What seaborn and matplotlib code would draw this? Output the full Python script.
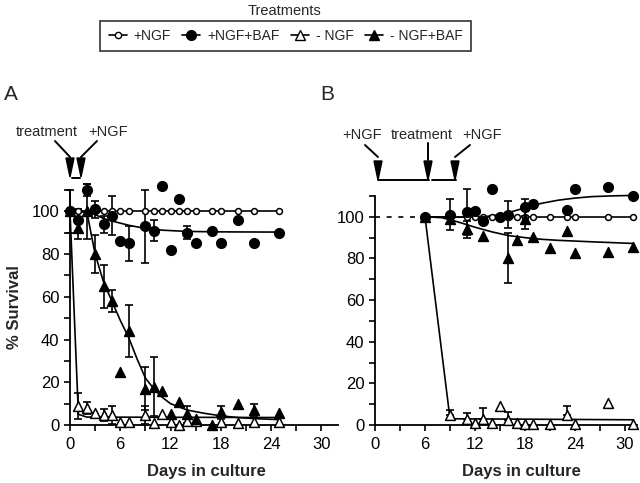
import numpy as np
import matplotlib
matplotlib.use('Agg')
import matplotlib.pyplot as plt
import seaborn as sns
from matplotlib.lines import Line2D
from matplotlib.patches import Polygon
from matplotlib.ticker import MultipleLocator

sns.set_style("ticks")
plt.rcParams['font.family'] = ['Liberation Sans', 'DejaVu Sans']

# ---- Panel A data (days, % survival, error) ----
a_ngf_days = [0, 1, 3, 4, 5, 6, 7, 9, 10, 11, 12, 13, 14, 15, 17, 18, 20, 22, 25]
a_ngf_vals = [100, 100, 100, 100, 100, 100, 100, 100, 100, 100, 100, 100, 100, 100, 100, 100, 100, 100, 100]

a_baf_days = [0, 1, 2, 3, 4, 5, 6, 7, 9, 10, 11, 12, 13, 14, 15, 17, 18, 20, 22, 25]
a_baf_vals = [100, 96, 110, 101, 94, 98, 86, 85, 93, 91, 112, 82, 106, 90, 85, 91, 85, 96, 85, 90]
a_baf_err = [10, 5, 3, 4, 4, 9, 0, 8, 17, 5, 0, 0, 0, 3, 0, 0, 0, 0, 0, 0]

a_nongf_days = [1, 2, 3, 4, 5, 6, 7, 9, 10, 11, 12, 13, 14, 15, 18, 20, 22, 25]
a_nongf_vals = [9, 8, 5.5, 4.7, 4.7, 1.6, 1.6, 4.7, 1, 5, 1.6, 0, 2, 2, 1.6, 1, 1.6, 1.6]
a_nongf_err = [6, 3, 0, 3, 4, 0, 0, 4, 0, 0, 0, 0, 0, 0, 0, 0, 0, 0]

a_nobaf_days = [0, 1, 2, 3, 4, 5, 6, 7, 9, 10, 11, 12, 13, 14, 15, 17, 18, 20, 22, 25]
a_nobaf_vals = [100, 92, 100, 80, 65, 58, 25, 44, 17, 18, 16, 5, 11, 5, 3, 0, 6, 10, 7, 5.5]
a_nobaf_err = [0, 5, 13, 9, 10, 5, 0, 12, 10, 14, 0, 0, 0, 4, 0, 0, 3, 0, 3, 0]

# fitted curves
a_fit_ngf_x = [0, 25]
a_fit_ngf_y = [100, 100]
a_fit_baf_x = [0, 1, 2, 3, 4, 5, 7, 9, 11, 14, 18, 25]
a_fit_baf_y = [100, 100, 99.5, 98.5, 96.7, 95.5, 93.5, 92, 91.2, 90.6, 90.4, 90.3]
a_fit_nongf_x = [0, 1, 2, 25]
a_fit_nongf_y = [100, 5, 3.7, 3.5]
a_fit_nobaf_x = [0, 2, 3, 4, 5, 6, 7, 8, 9, 10, 11, 12, 14, 16, 18, 20, 22, 25]
a_fit_nobaf_y = [100, 100, 80, 67, 58, 49, 41, 31, 22, 17, 13, 10, 7, 5.5, 4.3, 3.5, 3, 2.5]

# ---- Panel B data ----
b_ngf_days = [6, 9, 11, 12, 13, 14, 15, 16, 17, 18, 19, 21, 23, 24, 28, 31]
b_ngf_vals = [100, 100, 100, 100, 100, 100, 100, 100, 100, 100, 100, 100, 100, 100, 100, 100]

b_baf_days = [6, 9, 11, 12, 13, 14, 15, 16, 18, 19, 23, 24, 28, 31]
b_baf_vals = [100, 101, 102.5, 103, 98, 113.5, 100, 101, 104.5, 106, 103.5, 113.5, 114.5, 110]
b_baf_err = [0, 7.5, 11, 0, 0, 0, 0, 6.5, 4, 0, 0, 0, 0, 0]

b_nongf_days = [9, 11, 12, 13, 14, 15, 16, 17, 18, 19, 21, 23, 24, 28, 31]
b_nongf_vals = [4.8, 2.7, 1.1, 2.7, 1.1, 9.1, 2.4, 1.1, 0.5, 0.5, 0.5, 4.8, 0.5, 10.4, 0.5]
b_nongf_err = [2.4, 2.9, 0, 5.3, 0, 0, 4, 0, 0, 0, 0, 4.3, 0, 0, 0]

b_nobaf_days = [6, 9, 11, 13, 16, 17, 18, 19, 21, 23, 24, 28, 31]
b_nobaf_vals = [100, 99, 94, 91, 80, 89, 99, 90.5, 85, 93, 82.5, 83, 85.5]
b_nobaf_err = [0, 0, 4, 0, 12, 0, 5, 0, 0, 0, 0, 0, 0]

b_pre_x = [0, 6]
b_pre_y = [100, 100]
b_fit_ngf_x = [6, 31]
b_fit_ngf_y = [100, 100]
b_fit_baf_x = [6, 10, 13, 15, 16, 18, 20, 22, 24, 26, 28, 31]
b_fit_baf_y = [100, 99.8, 100, 101, 102, 104.3, 106.5, 108, 109, 109.7, 110, 110.3]
b_fit_nongf_x = [6, 9, 31]
b_fit_nongf_y = [100, 3, 2.5]
b_fit_nobaf_x = [6, 8, 10, 12, 14, 16, 18, 20, 22, 26, 31]
b_fit_nobaf_y = [100, 99.6, 97.5, 95, 92.8, 91, 90, 89.2, 88.7, 88, 87.2]

W, H = 640, 483
fig = plt.figure(figsize=(6.4, 4.83), dpi=100)
axA = fig.add_axes([70 / W, 1 - 425 / H, 268 / W, 235 / H])
axB = fig.add_axes([375 / W, 1 - 425 / H, 261.7 / W, 229 / H])


def style(ax, xmax):
    ax.set_xlim(0, xmax)
    ax.set_ylim(0, 110)
    sns.despine(ax=ax)
    for s in ['left', 'bottom']:
        ax.spines[s].set_linewidth(1.3)
        ax.spines[s].set_color('black')
    ax.xaxis.set_major_locator(MultipleLocator(6))
    ax.xaxis.set_minor_locator(MultipleLocator(3))
    ax.yaxis.set_major_locator(MultipleLocator(20))
    ax.yaxis.set_minor_locator(MultipleLocator(10))
    ax.tick_params(which='both', direction='out', length=4.5, width=1.2,
                   colors='black', labelsize=12)
    ax.tick_params(axis='x', pad=4)
    ax.tick_params(axis='y', pad=3)
    ax.set_xlabel('Days in culture', fontsize=12, fontweight='bold')
    ax.set_ylabel('')


def curve(ax, x, y, ls='-'):
    sns.lineplot(x=x, y=y, color='black', lw=1.2, ls=ls, ax=ax,
                 clip_on=False, zorder=2)


def bars(ax, days, vals, err, upper_only=False):
    d = np.array(days, float)
    v = np.array(vals, float)
    e = np.array(err, float)
    m = e > 0
    lo = np.zeros(m.sum()) if upper_only else e[m]
    eb = ax.errorbar(d[m], v[m], yerr=[lo, e[m]], fmt='none', ecolor='black',
                     elinewidth=1.2, capsize=3, capthick=1.2, zorder=3)
    for a in eb.get_children():
        a.set_clip_on(False)


def points(ax, days, vals, marker, filled, s):
    sns.scatterplot(x=days, y=vals, marker=marker, s=s,
                    color='black' if filled else 'white', edgecolor='black',
                    linewidth=1.1, ax=ax, clip_on=False, zorder=4)


# Panel A
curve(axA, a_fit_ngf_x, a_fit_ngf_y)
curve(axA, a_fit_baf_x, a_fit_baf_y)
curve(axA, a_fit_nongf_x, a_fit_nongf_y)
curve(axA, a_fit_nobaf_x, a_fit_nobaf_y)
bars(axA, a_baf_days, a_baf_vals, a_baf_err)
bars(axA, a_nobaf_days, a_nobaf_vals, a_nobaf_err)
bars(axA, a_nongf_days, a_nongf_vals, a_nongf_err)
points(axA, a_ngf_days, a_ngf_vals, 'o', False, 18)
points(axA, a_nongf_days, a_nongf_vals, '^', False, 50)
points(axA, a_baf_days, a_baf_vals, 'o', True, 48)
points(axA, a_nobaf_days, a_nobaf_vals, '^', True, 50)
style(axA, 32)
axA.set_ylabel('% Survival', fontsize=12, fontweight='bold')
axA.yaxis.set_label_coords(-0.18, 0.5)
axA.xaxis.set_label_coords(0.51, -0.165)

# Panel B
curve(axB, b_pre_x, b_pre_y, ls=(0, (3, 4)))
curve(axB, b_fit_ngf_x, b_fit_ngf_y)
curve(axB, b_fit_baf_x, b_fit_baf_y)
curve(axB, b_fit_nongf_x, b_fit_nongf_y)
curve(axB, b_fit_nobaf_x, b_fit_nobaf_y)
bars(axB, b_baf_days, b_baf_vals, b_baf_err)
bars(axB, b_nobaf_days, b_nobaf_vals, b_nobaf_err)
bars(axB, b_nongf_days, b_nongf_vals, b_nongf_err, upper_only=True)
points(axB, b_ngf_days, b_ngf_vals, 'o', False, 18)
points(axB, b_nongf_days, b_nongf_vals, '^', False, 50)
points(axB, b_baf_days, b_baf_vals, 'o', True, 48)
points(axB, b_nobaf_days, b_nobaf_vals, '^', True, 50)
style(axB, 31.4)
axB.xaxis.set_label_coords(0.56, -0.17)


# annotations in pixel coordinates of the figure
def px(x, y):
    return (x / W, 1 - y / H)


def seg(pts):
    xs, ys = zip(*[px(x, y) for x, y in pts])
    fig.add_artist(Line2D(xs, ys, color='black', lw=1.4, transform=fig.transFigure))


def head(x, y_tip, h=19, hw=4):
    tri = Polygon([px(x - hw, y_tip - h), px(x + hw, y_tip - h), px(x, y_tip)],
                  closed=True, color='black', transform=fig.transFigure)
    fig.add_artist(tri)


def label(x, y, s, size=10.5):
    fig.text(*px(x, y), s, ha='center', va='center', fontsize=size)


# Panel A arrows
label(47, 132, 'treatment')
label(108, 132, '+NGF')
seg([(55, 141), (70, 157)])
seg([(97, 141), (81, 157)])
head(70, 177)
head(81, 177)
seg([(72, 178), (80, 178)])

# Panel B arrows
label(362, 135, '+NGF')
label(422, 135, 'treatment')
label(482, 135, '+NGF')
seg([(365, 145), (378, 157)])
seg([(428, 143), (428, 160)])
seg([(470, 145), (455, 157)])
head(378, 180)
head(428, 180)
head(455, 180)
seg([(378, 180), (429, 180)])
seg([(432, 180), (456, 180)])

# panel letters
fig.text(*px(11, 95), 'A', ha='center', va='center', fontsize=15)
fig.text(*px(327, 95), 'B', ha='center', va='center', fontsize=15)

# legend
handles = [
    Line2D([], [], color='black', lw=1.2, marker='o', ms=4.5, mfc='white', mec='black'),
    Line2D([], [], color='black', lw=1.2, marker='o', ms=7, mfc='black', mec='black'),
    Line2D([], [], color='black', lw=1.2, marker='^', ms=7, mfc='white', mec='black'),
    Line2D([], [], color='black', lw=1.2, marker='^', ms=7, mfc='black', mec='black'),
]
leg = fig.legend(handles, ['+NGF', '+NGF+BAF', '- NGF', '- NGF+BAF'], ncol=4,
                 loc='center', bbox_to_anchor=px(285.5, 36), fontsize=10,
                 handlelength=1.3, handletextpad=0.5, columnspacing=0.8,
                 borderpad=0.6, fancybox=False, frameon=True)
leg.get_frame().set_edgecolor('black')
leg.get_frame().set_linewidth(1.2)
fig.text(*px(285, 11), 'Treatments', ha='center', va='center', fontsize=10.5)

fig.savefig('out.png', dpi=100)
